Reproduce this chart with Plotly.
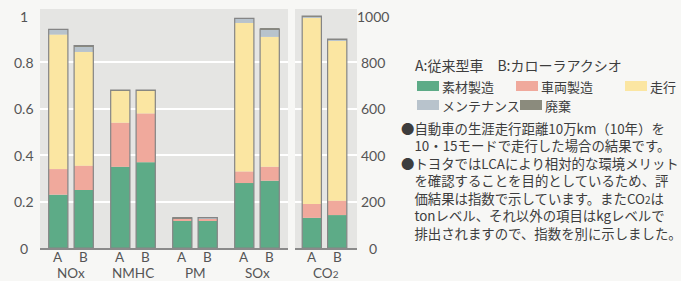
import numpy as np
import plotly.graph_objects as go

# ---------------- data ----------------
groups = ["NOx", "NMHC", "PM", "SOx"]
cars = ["A", "B"]
bar_group = [0, 0, 1, 1, 2, 2, 3, 3]
bar_car = ["A", "B", "A", "B", "A", "B", "A", "B"]
stages = ["素材製造", "車両製造", "走行", "メンテナンス", "廃棄"]

# index values (NOx A, NOx B, NMHC A, NMHC B, PM A, PM B, SOx A, SOx B)
material_idx = [0.23, 0.25, 0.35, 0.37, 0.118, 0.119, 0.28, 0.29]
vehicle_idx = [0.11, 0.105, 0.19, 0.21, 0.008, 0.008, 0.05, 0.06]
running_idx = [0.58, 0.49, 0.138, 0.098, 0.002, 0.002, 0.64, 0.56]
maint_idx = [0.02, 0.025, 0.002, 0.002, 0.001, 0.001, 0.018, 0.032]
disposal_idx = [0.002, 0.002, 0.001, 0.001, 0.001, 0.001, 0.002, 0.002]

# CO2 index (A, B)
co2_label = "CO<span style='font-size:10px'>2</span>"
co2_material = [130, 142]
co2_vehicle = [60, 62]
co2_running = [805, 690]
co2_maint = [3, 4]
co2_disposal = [2, 2]

left_ticks = [0, 0.2, 0.4, 0.6, 0.8, 1]
left_tick_text = ["0", "0.2", "0.4", "0.6", "0.8", "1"]
right_ticks = [0, 200, 400, 600, 800, 1000]
right_tick_text = ["0", "200", "400", "600", "800", "1000"]

legend_title = "A:従来型車　B:カローラアクシオ"
notes = [
    "●自動車の生涯走行距離10万km（10年）を",
    "　10・15モードで走行した場合の結果です。",
    "●トヨタではLCAにより相対的な環境メリット",
    "　を確認することを目的としているため、評",
    "　価結果は指数で示しています。またCO<span style='font-size:10px'>2</span>は",
    "　tonレベル、それ以外の項目はkgレベルで",
    "　排出されますので、指数を別に示しました。",
]

# ---------------- style ----------------
W, H = 681, 281
colors = ["#5dab87", "#f0a99c", "#fbe6a2", "#b8c3cc", "#8b8b7d"]
outline = "#858585"
FONT = "Noto Sans CJK JP"
LATIN = "Lato"
tick_color = "#555555"
text_color = "#3d3d3d"
offset = {"A": -0.205, "B": 0.205}
bar_w = 0.31

def px_x(p):
    return p / W

def px_y(p):
    return 1 - p / H

fig = go.Figure()

left_series = [material_idx, vehicle_idx, running_idx, maint_idx, disposal_idx]
right_series = [co2_material, co2_vehicle, co2_running, co2_maint, co2_disposal]

xl = [g + offset[c] for g, c in zip(bar_group, bar_car)]
xr = [offset[c] for c in cars]

for series, xs, xa, ya in [(left_series, xl, "x", "y"), (right_series, xr, "x2", "y2")]:
    arr = np.array(series, dtype=float)
    base = np.vstack([np.zeros(arr.shape[1]), np.cumsum(arr, axis=0)[:-1]])
    for i, name in enumerate(stages):
        fig.add_trace(go.Bar(
            x=xs, y=arr[i], base=base[i], name=name, width=bar_w,
            marker=dict(color=colors[i], line=dict(width=0)),
            xaxis=xa, yaxis=ya, showlegend=False,
        ))
    fig.add_trace(go.Bar(
        x=xs, y=arr.sum(axis=0), base=np.zeros(arr.shape[1]), width=bar_w,
        marker=dict(color="rgba(0,0,0,0)", line=dict(color=outline, width=1.2)),
        xaxis=xa, yaxis=ya, showlegend=False, hoverinfo="skip",
    ))

baseline_px, top_px, unit_px = 248, 9, 232
ydom = [px_y(baseline_px), px_y(top_px)]
ytop = (baseline_px - top_px) / unit_px

fig.update_layout(
    width=W, height=H, autosize=False,
    margin=dict(l=0, r=0, t=0, b=0),
    barmode="overlay",
    paper_bgcolor="#f7f7f5",
    plot_bgcolor="#e5e5e3",
    font=dict(family=FONT, size=14, color=tick_color),
    xaxis=dict(domain=[px_x(40), px_x(288)], range=[-0.5, 3.5],
               showticklabels=False, ticks="", showgrid=False,
               showline=True, linecolor="#8a8a8a", linewidth=2,
               zeroline=False, anchor="y", automargin=False),
    yaxis=dict(domain=ydom, range=[0, ytop], tickvals=left_ticks[1:-1],
               showticklabels=False, showgrid=True, gridcolor="#ffffff",
               gridwidth=2, zeroline=False, anchor="x", automargin=False),
    xaxis2=dict(domain=[px_x(295), px_x(357)], range=[-0.476, 0.524],
                showticklabels=False, ticks="", showgrid=False,
                showline=True, linecolor="#8a8a8a", linewidth=2,
                zeroline=False, anchor="y2", automargin=False),
    yaxis2=dict(domain=ydom, range=[0, ytop * 1000], tickvals=right_ticks[1:-1],
                showticklabels=False, showgrid=True, gridcolor="#ffffff",
                gridwidth=2, zeroline=False, anchor="x2", automargin=False),
)

lab_font = dict(family=LATIN, size=14, color=tick_color)
cat_font = dict(family=LATIN, size=13.5, color=tick_color)
ann = []
for v, t in zip(left_ticks, left_tick_text):
    ann.append(dict(x=px_x(24), y=v, xref="paper", yref="y", text=t,
                    showarrow=False, xanchor="center", yanchor="middle",
                    font=lab_font))
for v, t in zip(right_ticks, right_tick_text):
    ann.append(dict(x=px_x(373), y=v, xref="paper", yref="y2", text=t,
                    showarrow=False, xanchor="center", yanchor="middle",
                    font=lab_font))
for xv, c in zip(xl, bar_car):
    ann.append(dict(x=xv, y=px_y(257), xref="x", yref="paper", text=c,
                    showarrow=False, xanchor="center", yanchor="middle",
                    font=cat_font))
for xv, c in zip(xr, cars):
    ann.append(dict(x=xv, y=px_y(257), xref="x2", yref="paper", text=c,
                    showarrow=False, xanchor="center", yanchor="middle",
                    font=cat_font))
for i, g in enumerate(groups):
    ann.append(dict(x=i, y=px_y(273), xref="x", yref="paper", text=g,
                    showarrow=False, xanchor="center", yanchor="middle",
                    font=cat_font))
ann.append(dict(x=0.024, y=px_y(273), xref="x2", yref="paper", text=co2_label,
                showarrow=False, xanchor="center", yanchor="middle",
                font=cat_font))

# legend (title + swatches)
ann.append(dict(x=px_x(413), y=px_y(65), xref="paper", yref="paper",
                text=legend_title, showarrow=False, xanchor="left",
                yanchor="middle", font=dict(size=14, color=text_color)))
legend_pos = [(417, 86), (516, 86), (625, 86), (417, 105), (520, 105)]
shapes = []
for (lx, ly), name, col in zip(legend_pos, stages, colors):
    shapes.append(dict(type="rect", xref="paper", yref="paper",
                       x0=px_x(lx), x1=px_x(lx + 22), y0=px_y(ly - 5),
                       y1=px_y(ly + 5), fillcolor=col, line=dict(width=0)))
    ann.append(dict(x=px_x(lx + 23), y=px_y(ly), xref="paper", yref="paper",
                    text=name, showarrow=False, xanchor="left",
                    yanchor="middle", font=dict(size=13, color=text_color)))

# notes block (one multi-line text; line pitch = 1.3 x font size)
ann.append(dict(x=px_x(399), y=px_y(180), xref="paper", yref="paper",
                text="<br>".join(notes), showarrow=False, align="left",
                xanchor="left", yanchor="middle",
                font=dict(size=13.4, color=text_color)))

fig.update_layout(annotations=ann, shapes=shapes)
fig.write_html(
    "out.html",
    config={"displayModeBar": False},
    post_script="document.body.style.margin='0';document.body.style.overflow='hidden';",
)
